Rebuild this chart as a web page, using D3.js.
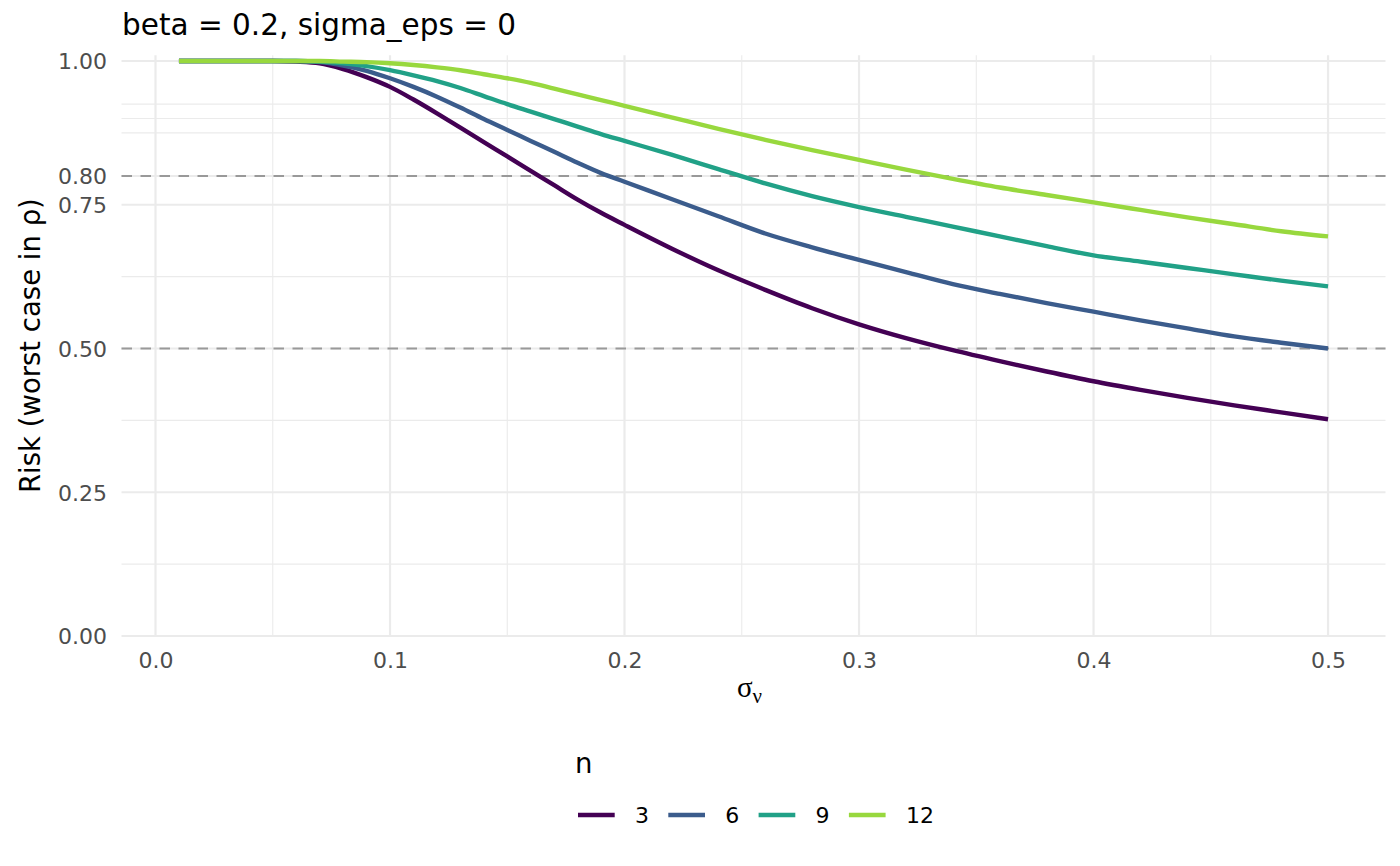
<!DOCTYPE html>
<html>
<head>
<meta charset="utf-8">
<script src="https://cdn.jsdelivr.net/npm/d3@7"></script>
<style>
  html, body { margin: 0; padding: 0; background: #ffffff; }
  svg { display: block; }
  text { font-family: "DejaVu Sans", sans-serif; }
</style>
</head>
<body>
<svg id="chart" width="1400" height="866"></svg>
<script>
// ---- data ----
const sigmaNu = [0.01,0.02,0.03,0.04,0.05,0.06,0.07,0.08,0.09,0.10,0.11,0.12,0.13,0.14,0.15,0.16,0.17,0.18,0.19,0.20,0.22,0.24,0.26,0.28,0.30,0.32,0.34,0.36,0.38,0.40,0.42,0.44,0.46,0.48,0.50];
const nLevels = ["3", "6", "9", "12"];
const risk_n3  = [1,1,1,1,1,0.999,0.996,0.986,0.972,0.955,0.933,0.909,0.884,0.859,0.834,0.809,0.784,0.759,0.736,0.715,0.674,0.636,0.602,0.570,0.542,0.518,0.497,0.478,0.460,0.443,0.428,0.414,0.401,0.389,0.377];
const risk_n6  = [1,1,1,1,1,1,0.998,0.992,0.983,0.970,0.955,0.938,0.919,0.899,0.880,0.861,0.842,0.823,0.805,0.790,0.760,0.730,0.700,0.676,0.654,0.633,0.612,0.595,0.579,0.564,0.549,0.535,0.521,0.510,0.500];
const risk_n9  = [1,1,1,1,1,1,0.999,0.996,0.991,0.984,0.975,0.965,0.953,0.939,0.925,0.912,0.899,0.886,0.873,0.861,0.837,0.812,0.787,0.765,0.746,0.729,0.712,0.695,0.678,0.662,0.651,0.640,0.629,0.618,0.608];
const risk_n12 = [1,1,1,1,1,1,1,0.999,0.998,0.996,0.993,0.989,0.984,0.977,0.970,0.962,0.952,0.942,0.932,0.922,0.902,0.882,0.863,0.845,0.828,0.811,0.795,0.780,0.767,0.754,0.741,0.728,0.716,0.704,0.695];
const seriesValues = [risk_n3, risk_n6, risk_n9, risk_n12];
const seriesColors = ["#440154", "#3B5C8C", "#21A187", "#98D83E"];

const xMajor = [0, 0.1, 0.2, 0.3, 0.4, 0.5];
const xMinor = [0.05, 0.15, 0.25, 0.35, 0.45];
const yMajor = [0, 0.25, 0.5, 0.75, 0.8, 1.0];
const yMinor = [0.125, 0.375, 0.625, 0.875, 0.9, 0.925];
const refLines = [0.8, 0.5];

const titleText = "beta = 0.2, sigma_eps = 0";
const yTitle = "Risk (worst case in ρ)";
const legendTitle = "n";

// ---- layout ----
const svg = d3.select("#chart");
const panel = { left: 121.5, right: 1385.5, top: 55.25, bottom: 636 };

const x = d3.scaleLinear().domain([-0.0145, 0.5245]).range([panel.left, panel.right]);
const y = d3.scaleLinear().domain([0, 1.01]).range([panel.bottom, panel.top]);

const grid = svg.append("g");
// minor grid
grid.selectAll(".vminor").data(xMinor).enter().append("line")
  .attr("x1", d => x(d)).attr("x2", d => x(d))
  .attr("y1", panel.top).attr("y2", panel.bottom)
  .attr("stroke", "#ebebeb").attr("stroke-width", 1.1);
grid.selectAll(".hminor").data(yMinor).enter().append("line")
  .attr("x1", panel.left).attr("x2", panel.right)
  .attr("y1", d => y(d)).attr("y2", d => y(d))
  .attr("stroke", "#ebebeb").attr("stroke-width", 1.1);
// major grid
grid.selectAll(".vmajor").data(xMajor).enter().append("line")
  .attr("x1", d => x(d)).attr("x2", d => x(d))
  .attr("y1", panel.top).attr("y2", panel.bottom)
  .attr("stroke", "#ebebeb").attr("stroke-width", 2.2);
grid.selectAll(".hmajor").data(yMajor).enter().append("line")
  .attr("x1", panel.left).attr("x2", panel.right)
  .attr("y1", d => y(d)).attr("y2", d => y(d))
  .attr("stroke", "#ebebeb").attr("stroke-width", 2.2);

// reference dashed lines
svg.append("g").selectAll("line").data(refLines).enter().append("line")
  .attr("x1", panel.left).attr("x2", panel.right)
  .attr("y1", d => y(d)).attr("y2", d => y(d))
  .attr("stroke", "#999999").attr("stroke-width", 2.2)
  .attr("stroke-dasharray", "10.5,8.5");

// series lines
const line = d3.line().x(d => x(d[0])).y(d => y(d[1])).curve(d3.curveMonotoneX);
const lineData = seriesValues.map((vals, i) => ({
  key: nLevels[i], color: seriesColors[i],
  pts: sigmaNu.map((s, j) => [s, vals[j]])
}));
svg.append("g").selectAll("path").data(lineData).enter().append("path")
  .attr("d", d => line(d.pts))
  .attr("fill", "none")
  .attr("stroke", d => d.color)
  .attr("stroke-width", 4.4)
  .attr("stroke-linejoin", "round")
  .attr("stroke-linecap", "butt");

// axes (tick labels only, as in theme_minimal)
const xAxis = d3.axisBottom(x).tickValues(xMajor).tickFormat(d3.format(".1f")).tickSize(0).tickPadding(0);
const gx = svg.append("g").attr("transform", `translate(0,${panel.bottom})`).call(xAxis);
gx.select(".domain").remove();
gx.selectAll("text").attr("y", 32).attr("dy", 0)
  .attr("fill", "#4d4d4d").style("font-size", "22px").style("font-family", "DejaVu Sans");

const yAxis = d3.axisLeft(y).tickValues(yMajor).tickFormat(d3.format(".2f")).tickSize(0).tickPadding(0);
const gy = svg.append("g").attr("transform", `translate(${panel.left},0)`).call(yAxis);
gy.select(".domain").remove();
gy.selectAll("text").attr("x", -14.5).attr("dy", "0.36em")
  .attr("fill", "#4d4d4d").style("font-size", "22px").style("font-family", "DejaVu Sans");

// title
svg.append("text").attr("x", 122).attr("y", 34.5)
  .style("font-size", "29.5px").attr("fill", "#000").text(titleText);

// y axis title
svg.append("text")
  .attr("transform", `translate(39.5,${(panel.top + panel.bottom) / 2}) rotate(-90)`)
  .attr("text-anchor", "middle")
  .style("font-size", "27.5px").attr("fill", "#000").text(yTitle);

// x axis title: sigma with subscript nu (plotmath, serif)
const xt = svg.append("text")
  .attr("x", (panel.left + panel.right) / 2 - 4).attr("y", 697)
  .attr("text-anchor", "middle")
  .attr("fill", "#000");
xt.append("tspan").style("font-size", "29px").style("font-family", "'Liberation Serif', serif").text("σ");
xt.append("tspan").attr("dy", 6).style("font-size", "21px").style("font-family", "'Liberation Serif', serif").text("ν");

// legend
svg.append("text").attr("x", 575).attr("y", 773)
  .style("font-size", "27.5px").attr("fill", "#000").text(legendTitle);
const legend = svg.append("g");
let lx = 578;
lineData.forEach(d => {
  legend.append("line")
    .attr("x1", lx).attr("x2", lx + 36.7)
    .attr("y1", 815).attr("y2", 815)
    .attr("stroke", d.color).attr("stroke-width", 4.4);
  const t = legend.append("text")
    .attr("x", lx + 57).attr("y", 822.5)
    .style("font-size", "22px").attr("fill", "#000").text(d.key);
  const w = t.node().getComputedTextLength();
  lx = lx + 57 + w + 19.3;
});
</script>
</body>
</html>
